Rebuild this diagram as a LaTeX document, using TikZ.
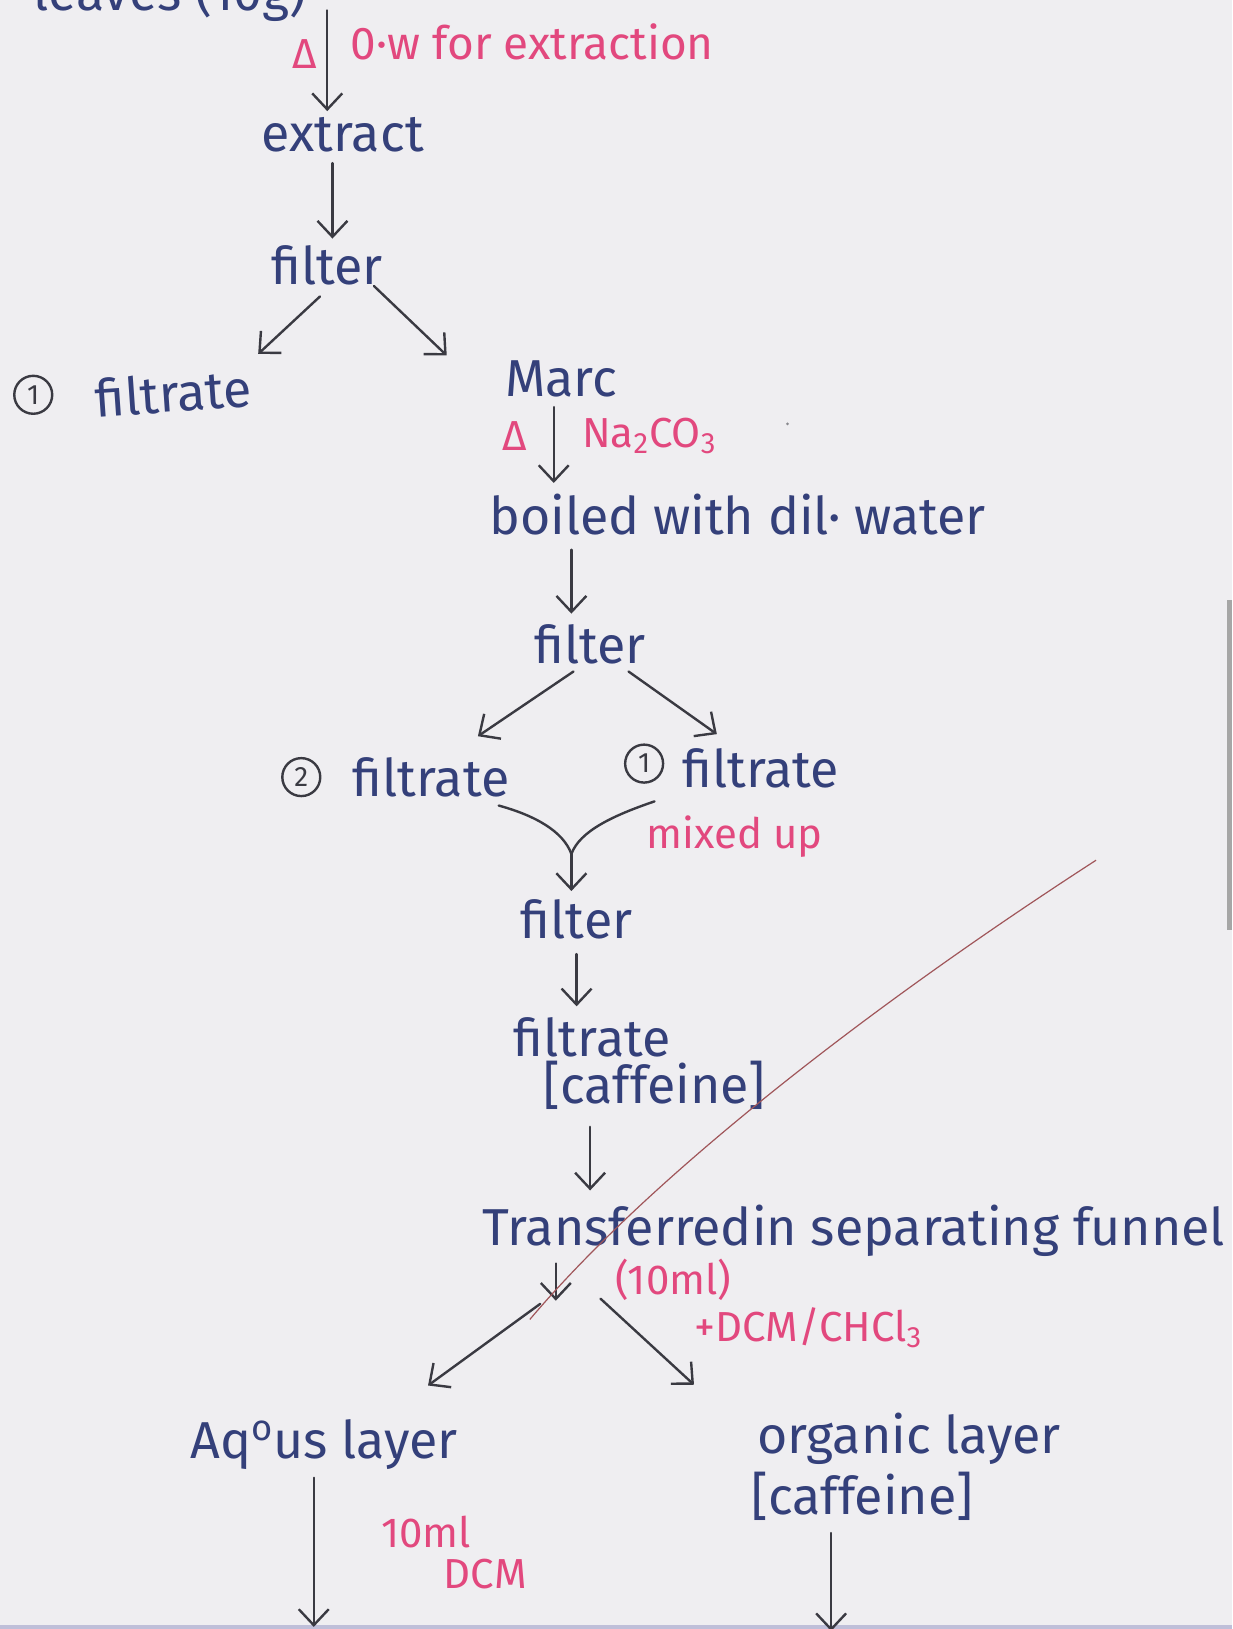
\documentclass[tikz,border=0pt]{standalone}
\usepackage{fontspec}
\setmainfont{Fira Sans}
\usetikzlibrary{arrows.meta,calc}
\definecolor{paper}{HTML}{EFEEF1}
\definecolor{inkblue}{HTML}{34407A}
\definecolor{inkpink}{HTML}{E2487E}
\definecolor{pengray}{HTML}{3A3A42}
\definecolor{redline}{HTML}{A0565A}
\tikzset{
  ink/.style={text=inkblue, font=\fontsize{26}{30}\selectfont, inner sep=1pt},
  note/.style={text=inkpink, font=\fontsize{21}{25}\selectfont, inner sep=1pt},
  arr/.style={draw=pengray, line width=1.2pt, line cap=round, -{Straight Barb[length=8pt,width=15pt,line width=1.2pt]}},
  pen/.style={draw=pengray, line width=1.2pt, line cap=round},
  num/.style={circle, draw=pengray, line width=1.2pt, inner sep=0pt, minimum size=19pt, text=pengray, font=\fontsize{14}{16}\selectfont},
}
\begin{document}
\begin{tikzpicture}[x=0.52pt,y=-0.52pt]
\path[fill=paper] (0,0) rectangle (1186,1568);
\useasboundingbox (0,0) rectangle (1186,1568);
\clip (0,0) rectangle (1186,1568);
\fill[gray!70] (1181,578) rectangle (1186,895);
\fill[blue!25!gray!40] (0,1564) rectangle (1186,1568);

% top
\node[ink, anchor=base west] (leaves) at (30,10) {leaves (10g)};
\coordinate (c0) at (315,10);
\node[note] (d1) at (293,52) {Δ};
\node[note, anchor=west, font=\fontsize{23}{27}\selectfont] (ow) at (335,40) {0·w for extraction};
\node[ink] (extract) at (330,130) {extract};
\node[ink] (filterA) at (315,255) {filter};
\node[num] (n1a) at (32,380) {1};
\node[ink, rotate=4] (filtrateA) at (167,378) {filtrate};
\node[ink] (marc) at (540,365) {Marc};
\node[note] (d2) at (495,420) {Δ};
\node[note, anchor=west] (na) at (558,420) {Na\textsubscript{2}CO\textsubscript{3}};
\node[ink] (boiled) at (710,495) {boiled with dil· water};
\node[ink] (filterB) at (568,620) {filter};
\node[num] (n2) at (290,748) {2};
\node[ink] (filtrateB2) at (415,748) {filtrate};
\node[num] (n1b) at (620,735) {1};
\node[ink] (filtrateB1) at (732,740) {filtrate};
\node[note] (mixed) at (707,805) {mixed up};
\coordinate (merge) at (550,822);
\node[ink] (filterC) at (555,885) {filter};
\node[ink] (filtrateC) at (570,998) {filtrate};
\node[ink] (caff1) at (630,1045) {[caffeine]};
\node[ink, anchor=west] (transfer) at (462,1185) {Transferredin separating funnel};
\coordinate (split) at (535,1252);
\node[note] (ml) at (648,1232) {(10ml)};
\node[note] (dcm) at (778,1278) {+DCM/CHCl\textsubscript{3}};
\node[ink] (aq) at (312,1390) {Aq\textsuperscript{o}us layer};
\node[ink] (org) at (875,1385) {organic layer};
\node[ink] (caff2) at (830,1440) {[caffeine]};
\node[note] (ml2) at (410,1475) {10ml};
\node[note] (dcm2) at (467,1515) {DCM};
\coordinate (bottomL) at (302,1566);
\coordinate (bottomR) at (800,1570);
\fill[pengray!60] (758,408) circle (1.5);

% connectors
\draw[arr] (c0) -- ($(c0 |- extract.north)+(0,-4)$);
\draw[arr] ($(extract.south)+(-10,8)$) -- ($(filterA.north)+(5,-4)$);
\draw[arr] ($(filterA.south)+(-7,9)$) -- ($(filtrateA.north)+(83,-16)$);
\draw[arr] ($(filterA.south)+(45,-1)$) -- ($(marc.north)+(-110,-3)$);
\draw[arr] ($(marc.south)+(-7,7)$) -- ($(boiled.north)+(-177,-8)$);
\draw[arr] ($(boiled.south)+(-160,12)$) -- ($(filterB.north)+(-18,-8)$);
\draw[arr] ($(filterB.south)+(-16,5)$) -- ($(filtrateB2.north)+(45,-18)$);
\draw[arr] ($(filterB.south)+(37,5)$) -- ($(filtrateB1.north)+(-42,-12)$);
\draw[pen] ($(filtrateB2.south)+(65,6)$) .. controls (515,785) and (542,800) .. (merge);
\draw[pen] ($(filtrateB1.south)+(-102,10)$) .. controls (590,785) and (558,800) .. (merge);
\draw[arr] (merge) -- ($(filterC.north)+(-5,-6)$);
\draw[arr] ($(filterC.south)+(0,12)$) -- ($(filtrateC.north)+(-15,-8)$);
\draw[arr] ($(caff1.south)+(-62,14)$) -- ($(transfer.north -| caff1.south)+(-62,-12)$);
\draw[arr] ($(transfer.south -| split)+(0,4)$) -- (split);
\draw[arr] ($(split)+(-15,3)$) -- ($(aq.north)+(100,-30)$);
\draw[arr] ($(split)+(43,-2)$) -- ($(org.north)+(-207,-25)$);
\draw[arr] ($(aq.south)+(-10,6)$) -- (bottomL);
\draw[arr] ($(caff2.south)+(-30,10)$) -- (bottomR);
\draw[draw=redline, line width=0.6pt] (1055,828) .. controls (820,980) and (620,1140) .. (510,1270);
\end{tikzpicture}
\end{document}
